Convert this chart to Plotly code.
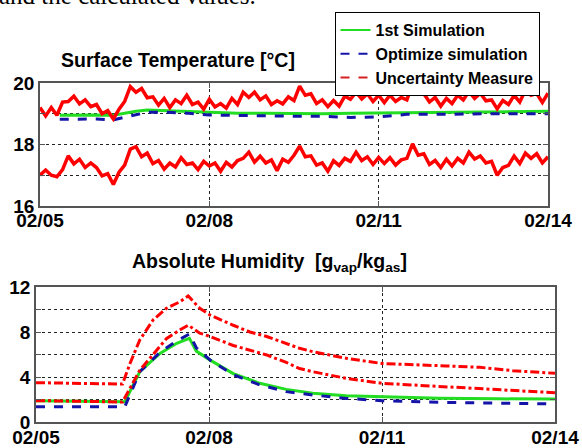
import plotly.graph_objects as go

# ---------------- data ----------------
tick_vals = [0, 3, 6, 9]
tick_text = ["02/05", "02/08", "02/11", "02/14"]

# Surface temperature: measurement uncertainty band (upper / lower), sampled every 0.1 day
meas_days = [round(i * 0.1, 1) for i in range(91)]
meas_upper = [19.20, 18.93, 19.20, 18.95, 19.38, 19.40, 19.57, 19.32, 19.45, 19.23,
              19.30, 19.00, 19.10, 18.83, 19.15, 19.40, 19.88, 19.70, 19.82, 19.52,
              19.55, 19.28, 19.50, 19.20, 19.45, 19.33, 19.60, 19.30, 19.38, 19.15,
              19.47, 19.22, 19.33, 19.18, 19.50, 19.30, 19.70, 19.53, 19.70, 19.45,
              19.58, 19.30, 19.42, 19.32, 19.55, 19.43, 19.90, 19.60, 19.65, 19.33,
              19.45, 19.23, 19.43, 19.25, 19.57, 19.47, 19.70, 19.48, 19.65, 19.40,
              19.60, 19.36, 19.60, 19.40, 19.53, 19.45, 19.97, 19.67, 19.65, 19.38,
              19.53, 19.25, 19.50, 19.33, 19.60, 19.45, 19.73, 19.50, 19.67, 19.42,
              19.45, 19.16, 19.43, 19.30, 19.60, 19.38, 19.77, 19.60, 19.66, 19.37,
              19.67]
meas_lower = [17.00, 17.17, 17.00, 16.95, 17.18, 17.63, 17.37, 17.52, 17.25, 17.40,
              17.25, 16.98, 17.05, 16.70, 17.10, 17.33, 17.85, 17.93, 17.60, 17.72,
              17.38, 17.48, 17.20, 17.40, 17.27, 17.57, 17.35, 17.40, 17.18, 17.45,
              17.30, 17.40, 17.13, 17.42, 17.27, 17.48, 17.55, 17.75, 17.43, 17.62,
              17.40, 17.50, 17.15, 17.52, 17.42, 17.65, 17.95, 17.60, 17.63, 17.33,
              17.40, 17.13, 17.47, 17.32, 17.55, 17.45, 17.75, 17.48, 17.60, 17.35,
              17.58, 17.38, 17.57, 17.33, 17.50, 17.55, 18.02, 17.65, 17.70, 17.35,
              17.48, 17.25, 17.52, 17.30, 17.55, 17.40, 17.75, 17.53, 17.63, 17.40,
              17.45, 17.00, 17.25, 17.32, 17.62, 17.38, 17.72, 17.55, 17.70, 17.40,
              17.60]

sim_days_t = [0.35, 0.6, 1.0, 1.3, 1.5, 1.7, 1.9, 2.2, 2.6, 3.0, 3.5, 4.0, 4.5,
              5.0, 5.5, 6.0, 6.5, 7.0, 7.5, 8.0, 8.5, 9.0]
sim1_temp = [18.95, 18.96, 18.96, 18.95, 19.02, 19.08, 19.12, 19.10, 19.06, 19.03,
             19.02, 19.02, 19.00, 19.00, 19.02, 19.03, 19.02, 19.05, 19.06, 19.07,
             19.08, 19.08]
opt_temp = [18.82, 18.82, 18.83, 18.80, 18.88, 18.98, 19.05, 19.05, 19.02, 18.96,
            18.94, 18.93, 18.92, 18.92, 18.88, 18.90, 18.98, 18.98, 19.00, 19.00,
            19.00, 19.00]

# Absolute humidity
hum_days = [0.0, 0.7, 1.5, 1.63, 1.8, 2.03, 2.26, 2.5, 2.64, 2.84, 3.02, 3.42, 3.71,
            4.0, 4.34, 4.57, 4.8, 5.38, 6.0, 6.54, 7.12, 7.7, 8.27, 9.0]
hum_upper = [3.50, 3.45, 3.37, 5.2, 7.3, 9.07, 10.1, 10.7, 11.2, 10.1, 9.5, 8.6, 8.0,
             7.6, 7.0, 6.55, 6.25, 5.66, 5.2, 5.07, 4.98, 4.86, 4.56, 4.33]
hum_lower = [1.90, 1.85, 1.78, 3.0, 4.6, 6.0, 7.4, 8.2, 8.6, 7.9, 7.6, 6.8, 6.4,
             5.96, 5.3, 4.75, 4.47, 3.88, 3.44, 3.29, 3.14, 2.93, 2.78, 2.6]

sim_days_h = [0.0, 1.0, 1.54, 1.8, 2.15, 2.44, 2.66, 2.78, 3.02, 3.42, 3.88, 4.34,
              4.8, 5.38, 6.0, 7.0, 8.0, 9.0]
sim1_hum = [1.90, 1.85, 1.80, 4.47, 6.1, 7.0, 7.44, 6.3, 5.5, 4.3, 3.44, 2.9,
            2.55, 2.34, 2.25, 2.12, 2.06, 2.04]
opt_hum = [1.36, 1.36, 1.36, 4.47, 6.2, 7.2, 7.82, 6.6, 5.5, 4.2, 3.3, 2.7,
           2.4, 2.1, 1.9, 1.75, 1.66, 1.6]

GREEN = "#22dd22"
BLUE = "#1414a8"
RED = "#ff0000"
FONT = "Liberation Sans, Arial"

fig = go.Figure()

# top panel
fig.add_trace(go.Scatter(x=sim_days_t, y=sim1_temp, mode="lines", showlegend=False,
                         line=dict(color=GREEN, width=3), xaxis="x", yaxis="y"))
fig.add_trace(go.Scatter(x=sim_days_t, y=opt_temp, mode="lines", showlegend=False,
                         line=dict(color=BLUE, width=3, dash="dash"), xaxis="x", yaxis="y"))
for ys in (meas_upper, meas_lower):
    fig.add_trace(go.Scatter(x=meas_days, y=ys, mode="lines", showlegend=False,
                             line=dict(color=RED, width=3.5), xaxis="x", yaxis="y"))

# bottom panel
fig.add_trace(go.Scatter(x=sim_days_h, y=sim1_hum, mode="lines", showlegend=False,
                         line=dict(color=GREEN, width=3), xaxis="x2", yaxis="y2"))
fig.add_trace(go.Scatter(x=sim_days_h, y=opt_hum, mode="lines", showlegend=False,
                         line=dict(color=BLUE, width=3, dash="dash"), xaxis="x2", yaxis="y2"))
for ys in (hum_upper, hum_lower):
    fig.add_trace(go.Scatter(x=hum_days, y=ys, mode="lines", showlegend=False,
                             line=dict(color=RED, width=3, dash="dashdot"), xaxis="x2", yaxis="y2"))

# legend entries
for name, col, dash in [("1st Simulation", GREEN, "solid"),
                        ("Optimize simulation", BLUE, "dash"),
                        ("Uncertainty Measure", "#d42020", "dash")]:
    fig.add_trace(go.Scatter(x=[None], y=[None], mode="lines", name=name,
                             line=dict(color=col, width=2, dash=dash), xaxis="x", yaxis="y"))

W, H = 582, 448
tickfont = dict(family=FONT, size=19, color="black", weight="bold")
axis_common = dict(showline=True, linecolor="#555555", linewidth=1.5, mirror="ticks",
                   ticks="inside", ticklen=5, tickcolor="#555555", showgrid=True,
                   gridcolor="#222222", gridwidth=1, griddash="dot", zeroline=False,
                   tickfont=tickfont, fixedrange=True, automargin=False)

fig.update_layout(
    width=W, height=H,
    margin=dict(l=0, r=0, t=0, b=0, autoexpand=False),
    paper_bgcolor="white", plot_bgcolor="white",
    xaxis=dict(domain=[40 / W, 548 / W], range=[0, 9], tickvals=tick_vals,
               ticktext=tick_text, anchor="y", ticklabelstandoff=-4, **axis_common),
    yaxis=dict(domain=[1 - 206 / H, 1 - 83 / H], range=[16, 20],
               tickvals=[16, 17, 18, 19, 20], ticktext=["16", "", "18", "", "20"],
               anchor="x", **axis_common),
    xaxis2=dict(domain=[36 / W, 555 / W], range=[0, 9], tickvals=tick_vals,
                ticktext=tick_text, anchor="y2", ticklabelstandoff=-3, **axis_common),
    yaxis2=dict(domain=[1 - 422 / H, 1 - 287 / H], range=[0, 12],
                tickvals=[0, 2, 4, 6, 8, 10, 12], ticktext=["0", "", "4", "", "8", "", "12"],
                anchor="x2", **axis_common),
    legend=dict(x=437 / W, y=1 - 12 / H, xanchor="center", yanchor="top",
                bgcolor="white", bordercolor="black", borderwidth=1,
                font=dict(family=FONT, size=16, color="black", weight="bold"),
                itemwidth=30, tracegroupgap=0),
    showlegend=True,
    annotations=[
        dict(text="Surface Temperature [°C]", x=178 / W, y=1 - 60 / H, xref="paper", yref="paper",
             showarrow=False, xanchor="center", yanchor="middle",
             font=dict(family=FONT, size=19.5, color="black", weight="bold")),
        dict(text="Absolute Humidity  [g<sub>vap</sub>/kg<sub>as</sub>]", x=269 / W, y=1 - 262 / H,
             xref="paper", yref="paper", showarrow=False, xanchor="center", yanchor="middle",
             font=dict(family=FONT, size=19.5, color="black", weight="bold")),
        dict(text="and the calculated values.", x=-3 / W, y=1 - 11 / H, xref="paper", yref="paper",
             showarrow=False, xanchor="left", yanchor="bottom",
             font=dict(family="Liberation Serif, Times New Roman", size=25, color="black")),
    ],
)

fig.write_html("out.html", config={"displayModeBar": False},
               post_script="document.body.style.margin='0px';")
